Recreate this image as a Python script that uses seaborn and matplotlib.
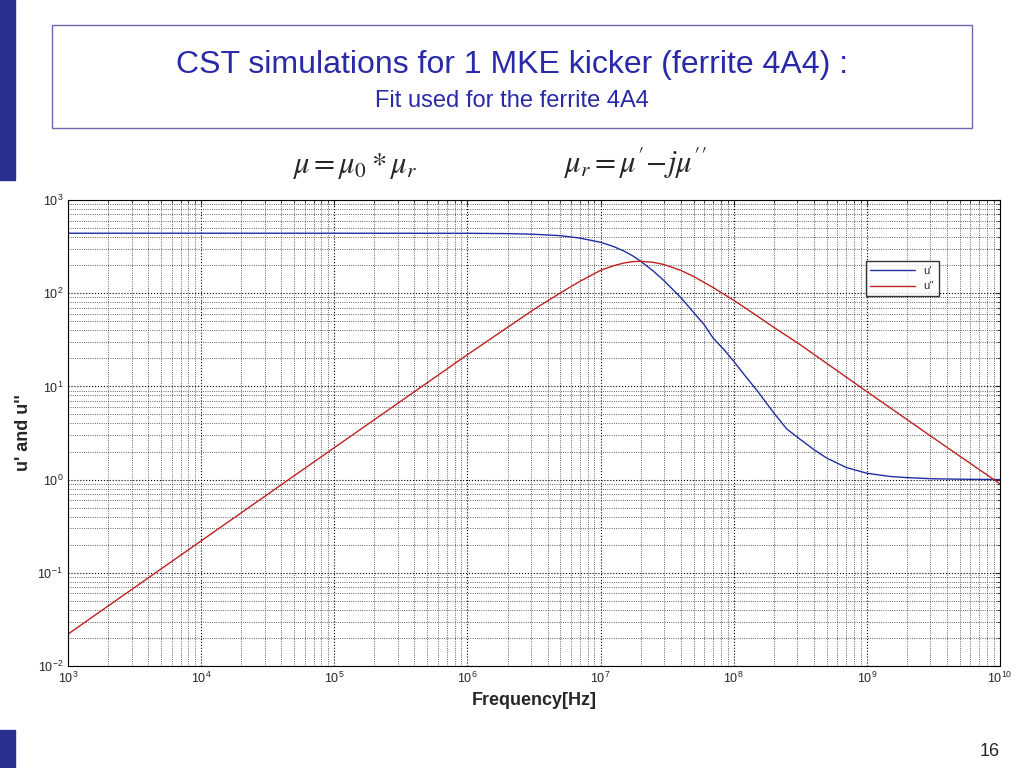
import matplotlib
matplotlib.use("Agg")
import matplotlib.pyplot as plt
import seaborn as sns
import pandas as pd
from matplotlib.patches import Rectangle

sns.set_style("white")
plt.rcParams['font.family'] = ['Liberation Sans', 'DejaVu Sans']

freq_u1 = [1e3, 1e4, 1e5, 1e6, 2e6, 3.16e6, 5e6, 7e6, 1e7, 1.25e7, 1.5e7, 1.75e7, 2e7, 2.5e7, 3e7, 4e7,
           5e7, 6e7, 7e7, 8.5e7, 1e8, 1.25e8, 1.5e8, 2e8, 2.5e8, 3.16e8, 4e8, 5e8, 7e8, 1e9, 1.5e9,
           2e9, 3.16e9, 5e9, 1e10]
u1 = [440, 440, 440, 439, 436, 429, 414, 390, 352, 317, 283, 251, 220, 172, 136, 90,
      62, 46, 33, 24.6, 18.6, 12.4, 9.0, 5.2, 3.5, 2.7, 2.1, 1.7, 1.35, 1.17, 1.08,
      1.05, 1.02, 1.01, 1.0]
freq_u2 = [1e3, 1e4, 1e5, 1e6, 2e6, 3.16e6, 5e6, 7e6, 1e7, 1.25e7, 1.5e7, 1.75e7, 2e7, 2.5e7, 3e7,
           4e7, 5e7, 7e7, 1e8, 1.5e8, 2e8, 3.16e8, 1e9, 3.16e9, 1e10]
u2 = [0.022, 0.22, 2.2, 21.9, 43, 67, 101, 134, 176, 197, 211, 218, 220, 214, 203,
      176, 151, 115, 84, 57, 43, 28, 8.8, 2.8, 0.9]

fig = plt.figure(figsize=(10.24, 7.68), dpi=100)
fig.patch.set_facecolor("white")
fig.add_artist(Rectangle((0, 1 - 180/768), 15/1024, 180/768, transform=fig.transFigure, color="#2b2f8f"))
fig.add_artist(Rectangle((0, 0), 15/1024, 38/768, transform=fig.transFigure, color="#2b2f8f"))
fig.add_artist(Rectangle((52/1024, 1 - 128/768), 920/1024, 103/768, transform=fig.transFigure,
                         fill=False, edgecolor="#6a6ab0", lw=1))
fig.text(0.5, 1 - 65/768, "CST simulations for 1 MKE kicker (ferrite 4A4) :", ha="center", va="center",
         color="#2a2aa8", fontsize=23)
fig.text(0.5, 1 - 101/768, "Fit used for the ferrite 4A4", ha="center", va="center",
         color="#2a2aa8", fontsize=17)
fig.text(355/1024, 1 - 166/768, r"$\mu = \mu_0 * \mu_r$", ha="center", va="center", fontsize=22,
         math_fontfamily="stix")
fig.text(635/1024, 1 - 163/768, r"$\mu_r = \mu' \! - \! j\mu''$", ha="center", va="center", fontsize=22,
         math_fontfamily="stix")
fig.text(1000/1024, 1 - 752/768, "16", ha="right", va="center", fontsize=13)

ax = fig.add_axes([68/1024, 102/768, 932/1024, 466/768])
d1 = pd.DataFrame({"f": freq_u1, "v": u1})
d2 = pd.DataFrame({"f": freq_u2, "v": u2})
sns.lineplot(data=d1, x="f", y="v", ax=ax, color="#1f2fa0", lw=1, label="u'")
sns.lineplot(data=d2, x="f", y="v", ax=ax, color="#c02020", lw=1, label="u''")
ax.set_xscale("log"); ax.set_yscale("log")
ax.set_xlim(1e3, 1e10); ax.set_ylim(1e-2, 1e3)
ax.grid(True, which="major", color="black", ls=":", lw=0.8)
ax.grid(True, which="minor", color="#333333", ls=":", lw=0.6)
for s in ax.spines.values():
    s.set_color("black"); s.set_linewidth(0.8)
ax.tick_params(which="both", direction="in", labelsize=9, top=True, right=True)
ax.set_xlabel("Frequency[Hz]", fontsize=13, fontweight="bold")
ax.set_ylabel("u' and u''", fontsize=13, fontweight="bold")
ax.legend(loc="upper right", bbox_to_anchor=(0.94, 0.88), fontsize=8, frameon=True,
          fancybox=False, edgecolor="black", handlelength=4)
fig.savefig("out.png", dpi=100)
